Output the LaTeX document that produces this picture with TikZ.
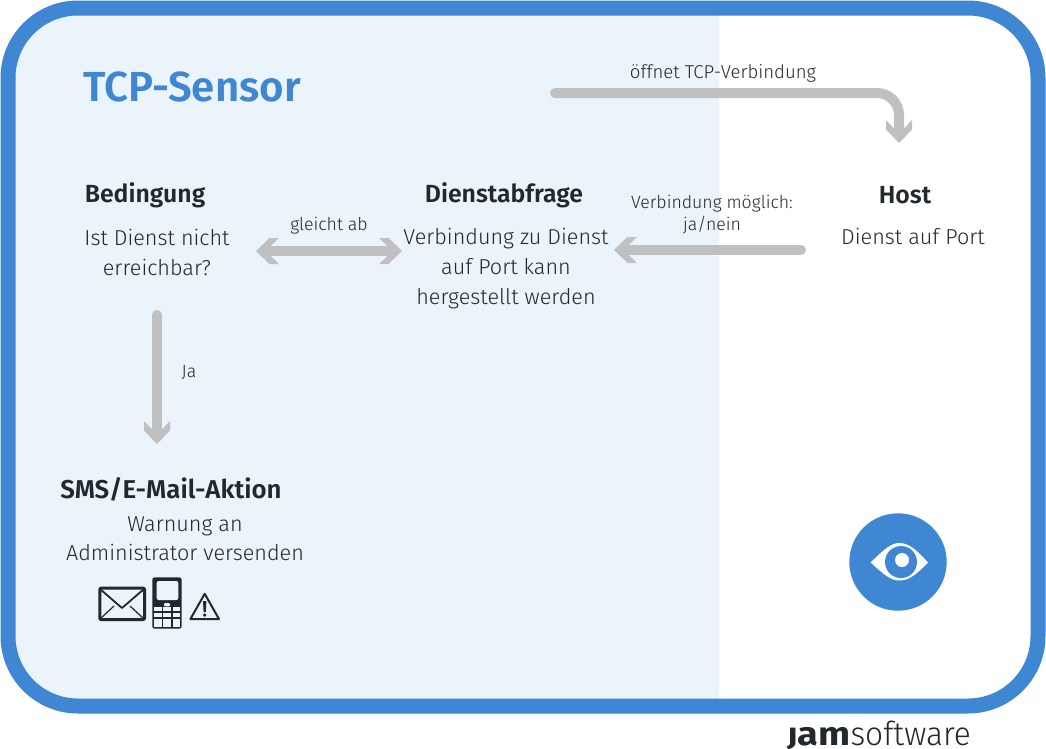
\documentclass[tikz,border=0pt]{standalone}
\usepackage{fontspec}
\setmainfont{Fira Sans}[UprightFont=* Light,BoldFont=* SemiBold]
\newfontfamily\logobold{Fira Sans}[UprightFont=* Bold]
\usetikzlibrary{arrows.meta,calc}
\definecolor{frameblue}{HTML}{3F87D2}
\definecolor{paleblue}{HTML}{EBF3FB}
\definecolor{conngray}{HTML}{C0C0C0}
\definecolor{ink}{HTML}{22282B}
\pgfdeclarearrow{
  name=Chevron,
  setup code={
    \pgfarrowssettipend{0pt}
    \pgfarrowssetbackend{-23pt}
    \pgfarrowssetlineend{-12pt}
    \pgfarrowssetvisualbackend{-23pt}
  },
  drawing code={
    \pgfpathmoveto{\pgfqpoint{0pt}{0pt}}
    \pgfpathlineto{\pgfqpoint{-13.5pt}{13pt}}
    \pgfpathlineto{\pgfqpoint{-23pt}{13pt}}
    \pgfpathlineto{\pgfqpoint{-13.5pt}{4pt}}
    \pgfpathlineto{\pgfqpoint{-13.5pt}{-4pt}}
    \pgfpathlineto{\pgfqpoint{-23pt}{-13pt}}
    \pgfpathlineto{\pgfqpoint{-13.5pt}{-13pt}}
    \pgfpathclose
    \pgfusepathqfill
  }
}
\tikzset{
  x=1pt,y=-1pt,
  txt/.style={text=ink,inner sep=0pt,align=center},
  heading/.style={txt,font=\fontsize{24.8}{28}\selectfont\bfseries},
  body/.style={txt,font=\fontsize{21.6}{30}\selectfont},
  small/.style={txt,font=\fontsize{17.7}{22}\selectfont},
  conn/.style={draw=conngray,line width=10pt,line cap=round,line join=round},
}
\begin{document}
\begin{tikzpicture}
\useasboundingbox (0,0) rectangle (1046,748);
\fill[white] (0,0) rectangle (1046,748);
\begin{scope}
  \clip[rounded corners=70pt] (8,8) rectangle (1038,706);
  \fill[paleblue] (0,0) rectangle (719,714);
\end{scope}
\draw[frameblue,line width=15pt,rounded corners=70pt] (8,8) rectangle (1038,706);

\node[txt,text=frameblue,font=\fontsize{42}{44}\selectfont\bfseries] (title) at (192,87) {TCP-Sensor};

\node[heading] (condhead) at (145,195) {Bedingung};
\node[body] (cond) at (157,252) {Ist Dienst nicht\\erreichbar?};
\node[heading] (queryhead) at (504,195) {Dienstabfrage};
\node[body] (query) at (506,269) {Verbindung zu Dienst\\auf Port kann\\hergestellt werden};
\node[heading] (hosthead) at (905,195) {Host};
\node[body] (host) at (913,236) {Dienst auf Port};
\node[heading,font=\fontsize{25.8}{28}\selectfont\bfseries] (acthead) at (171,489) {SMS/E-Mail-Aktion};
\node[body,font=\fontsize{21.6}{29}\selectfont] (act) at (185,539) {Warnung an\\Administrator versenden};

\node[small] (lcompare) at (329,226) {gleicht ab};
\node[small] (lyes) at (189,372) {Ja};
\node[small] (lpossible) at (712,215) {Verbindung möglich:\\ja/nein};
\node[small,font=\fontsize{18.6}{22}\selectfont] (lopens) at (723,73) {öffnet TCP-Verbindung};

\coordinate (opens) at (555,93);
\coordinate (hostin) at (899,143);
\coordinate (hostout) at (801,250);
\coordinate (queryin) at (614,250);
\coordinate (condr) at (256,251);
\coordinate (queryl) at (402,251);
\coordinate (condd) at (157,315);
\coordinate (actin) at (157,444);

\draw[conn,-{Chevron},rounded corners=22pt] (opens) -- (opens -| hostin) -- (hostin);
\draw[conn,-{Chevron}] (hostout) -- (queryin);
\draw[conn,{Chevron}-{Chevron}] (condr) -- (queryl);
\draw[conn,-{Chevron}] (condd) -- (actin);

% envelope
\draw[ink,line width=3pt,line join=round,rounded corners=1pt] (99.8,588.2) rectangle (144.5,619.5);
\draw[ink,line width=1.8pt,line join=round] (100,589) -- (122,608) -- (144,589);
\draw[ink,line width=1.2pt] (101,618) -- (114,606);
\draw[ink,line width=1.2pt] (143,618) -- (130,606);
% phone
\fill[ink,rounded corners=2.5pt] (152.3,577.3) rectangle (181.7,628.7);
\fill[paleblue,rounded corners=2pt] (156.7,581) rectangle (178.3,600);
\foreach \cy in {609,615,620.7,625.3}{
  \fill[paleblue] (154,\cy-1.9) rectangle (161.7,\cy+1.9);
  \fill[paleblue] (163.3,\cy-1.9) rectangle (171,\cy+1.9);
  \fill[paleblue] (172.7,\cy-1.9) rectangle (180,\cy+1.9);
}
\fill[paleblue,rounded corners=1pt] (164,603.2) rectangle (170,606.4);
% warning
\draw[ink,line width=2pt,line join=round] (204.7,593.8) -- (219,619) -- (190.4,619) -- cycle;
\fill[ink] (203,601) -- (206.4,601) -- (205.8,612) -- (203.6,612) -- cycle;
\fill[ink] (204.7,615) circle (1.8);

% eye
\fill[frameblue] (898,562) circle (48.7);
\fill[white] (870.7,562.5) .. controls (885,548) and (892,543) .. (899,543) .. controls (908,543) and (915,548) .. (928,562.5) .. controls (915,576) and (908,580.5) .. (899,580.5) .. controls (892,580.5) and (885,576) .. (870.7,562.5) -- cycle;
\fill[frameblue] (901,562) circle (16);
\fill[white] (902,560) circle (7);

% logo
\node[txt,font=\fontsize{33}{35}\selectfont,anchor=base west] (logo) at (787,745) {\logobold\scalebox{1.0}[0.76]{J}\scalebox{1.15}[1]{am}\normalfont\scalebox{0.96}[1]{software}};
\end{tikzpicture}
\end{document}
